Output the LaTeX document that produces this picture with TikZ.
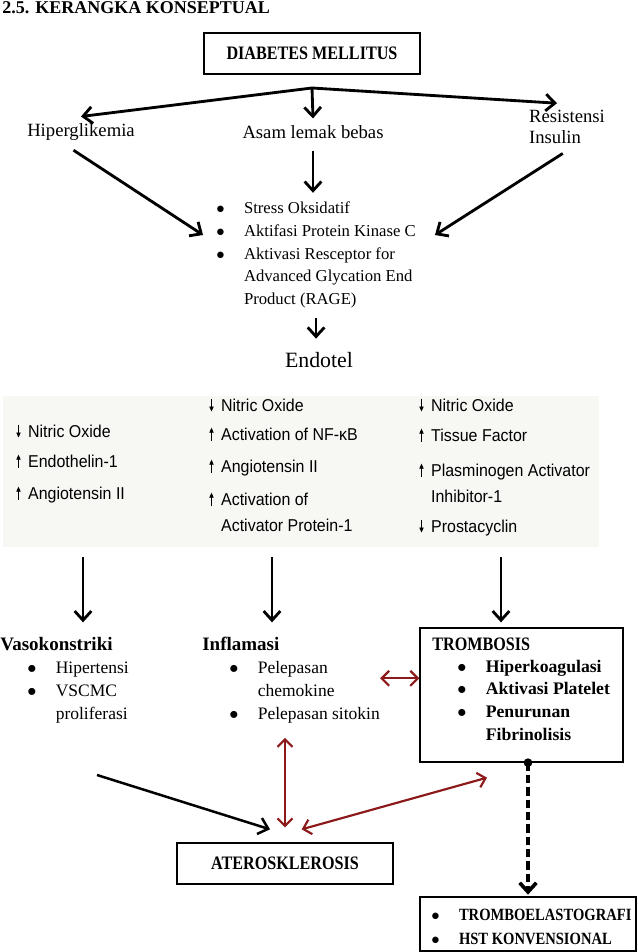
\documentclass[tikz,border=0pt]{standalone}
\usepackage{fontspec}
\setmainfont{Liberation Serif}
\newfontfamily\capsfont[FakeStretch=0.85]{Liberation Serif}
\newfontfamily\panelfont[FakeStretch=0.93]{Liberation Sans}
\usetikzlibrary{arrows.meta,positioning,calc}
\definecolor{darkred}{HTML}{8C1A1A}
\definecolor{panelgrey}{HTML}{F7F7F4}
\newcommand\bul{$\bullet$}
\newcommand\blist[1]{\begin{tabular}[t]{@{}l@{\hspace{11.6pt}}l@{}}#1\end{tabular}}
\newcommand\pitem[2]{\begin{tabular}[t]{@{}l@{\hspace{4.5pt}}l@{}}#1 & #2\end{tabular}}
\newcommand\upar{\tikz[baseline=0pt]\draw[line width=0.45pt,-{Triangle[length=3pt,width=2.6pt]}] (0pt,-0.3pt)--(0pt,7.4pt);}
\newcommand\dnar{\tikz[baseline=0pt]\draw[line width=0.45pt,-{Triangle[length=3pt,width=2.6pt]}] (0pt,7.4pt)--(0pt,-0.3pt);}

\begin{document}
\begin{tikzpicture}[x=0.6pt,y=-0.6pt,
txt/.style={inner sep=4pt,font=\fontsize{11.2}{12.6}\selectfont},
box/.style={draw,line width=0.8pt,minimum width=129.6pt,minimum height=24.6pt,
inner sep=0pt,font=\capsfont\bfseries\fontsize{11.4}{13}\selectfont},
ttl/.style={anchor=base west,inner sep=0pt,font=\bfseries\fontsize{11.4}{13}\selectfont},
lst/.style={anchor=base west,inner sep=0pt,font=\fontsize{10.5}{13.8}\selectfont},
pnl/.style={anchor=base west,inner sep=0pt,font=\panelfont\fontsize{10.3}{16}\selectfont},
arr/.style={line width=1.7pt,-{Straight Barb[length=5.5pt,width=10pt]}},
redarr/.style={draw=darkred,line width=1.3pt,
{Straight Barb[length=4.5pt,width=9pt]}-{Straight Barb[length=4.5pt,width=9pt]}},
dasharr/.style={line width=2.2pt,dash pattern=on 5pt off 2.4pt,
-{Straight Barb[length=5.5pt,width=10pt]}}]
\useasboundingbox (0,0) rectangle (637,952);

\node[anchor=base west,inner sep=0pt,font=\bfseries\fontsize{10.8}{13}\selectfont]
  (heading) at (2,14) {2.5. KERANGKA KONSEPTUAL};

\node[box] (dm) at (312,53.5) {DIABETES MELLITUS};
\coordinate (split) at (312,88);
\node[txt] (hiper) at (81,132) {Hiperglikemia};
\node[txt] (asam) at (313,132) {Asam lemak bebas};
\node[txt,align=left] (resist) at (567,127) {Resistensi\\Insulin};
\draw[arr] (split) -- (hiper.north);
\draw[arr] (split) -- (asam.north);
\draw[arr] (split) -- ([xshift=-6pt]resist.north);

\node[anchor=base west,inner sep=0pt,font=\fontsize{10}{13.6}\selectfont] (factors) at (216,214)
  {\blist{\bul & Stress Oksidatif\\
          \bul & Aktifasi Protein Kinase C\\
          \bul & Aktivasi Resceptor for\\
               & Advanced Glycation End\\
               & Product (RAGE)}};
\coordinate (inL) at (203,235);
\coordinate (inR) at (435,235);
\draw[arr,shorten <=3pt] ([xshift=-7pt]hiper.south) -- (inL);
\draw[arr,shorten <=3pt] (resist.south) -- (inR);
\draw[arr,shorten <=3pt,shorten >=3pt] (asam.south) -- (asam.south |- factors.north);

\node[inner sep=2pt,font=\fontsize{13.1}{15}\selectfont] (endotel) at (319,360) {Endotel};
\draw[arr,shorten <=4pt,shorten >=6pt] (factors.south) -- (factors.south |- endotel.north);

\node[fill=panelgrey,inner sep=0pt,minimum width=357.6pt,minimum height=90.6pt] (mech) at (301,471.5) {};
\node[pnl] (no1) at (16,437) {\pitem{\dnar}{Nitric Oxide}};
\node[pnl] (et1) at (16,467) {\pitem{\upar}{Endothelin-1}};
\node[pnl] (at1) at (16,499) {\pitem{\upar}{Angiotensin II}};
\node[pnl] (no2) at (209,411) {\pitem{\dnar}{Nitric Oxide}};
\node[pnl] (nfkb) at (209,440) {\pitem{\upar}{Activation of NF-κB}};
\node[pnl] (at2) at (209,472) {\pitem{\upar}{Angiotensin II}};
\node[pnl] (ap1) at (209,505) {\pitem{\upar}{Activation of\\ & Activator Protein-1}};
\node[pnl] (no3) at (419,411) {\pitem{\dnar}{Nitric Oxide}};
\node[pnl] (tf) at (419,441) {\pitem{\upar}{Tissue Factor}};
\node[pnl] (pai) at (419,476) {\pitem{\upar}{Plasminogen Activator\\ & Inhibitor-1}};
\node[pnl] (pgi) at (419,532) {\pitem{\dnar}{Prostacyclin}};

\node[ttl] (vaso) at (0,650) {Vasokonstriki};
\node[lst] (vasolist) at (27,673)
  {\blist{\bul & Hipertensi\\ \bul & VSCMC\\ & proliferasi}};
\node[ttl] (infl) at (202,650) {Inflamasi};
\node[lst] (infllist) at (229,673)
  {\blist{\bul & Pelepasan\\ & chemokine\\ \bul & Pelepasan sitokin}};
\node[draw,line width=0.8pt,minimum width=121.8pt,minimum height=80.4pt,inner sep=0pt] (tromb) at (521.5,695) {};
\node[ttl,font=\capsfont\bfseries\fontsize{11.4}{13}\selectfont] (trombttl) at (432,650) {TROMBOSIS};
\node[lst,font=\bfseries\fontsize{10.6}{13.6}\selectfont] (tromblist) at (457,672)
  {\blist{\bul & Hiperkoagulasi\\ \bul & Aktivasi Platelet\\
          \bul & Penurunan\\ & Fibrinolisis}};

\coordinate (c1) at (83,0);
\coordinate (c2) at (272,0);
\coordinate (c3) at (501,0);
\draw[arr,shorten <=6pt,shorten >=3pt] (c1 |- mech.south) -- (c1 |- tromb.north);
\draw[arr,shorten <=6pt,shorten >=3pt] (c2 |- mech.south) -- (c2 |- tromb.north);
\draw[arr,shorten <=6pt,shorten >=3pt] (c3 |- mech.south) -- (c3 |- tromb.north);

\coordinate (hlink) at ([yshift=10pt]tromb.west);
\draw[redarr] (infllist.east |- hlink) -- (hlink);

\node[box] (ather) at (285,863.5) {ATEROSKLEROSIS};
\draw[redarr,shorten <=7pt,shorten >=9pt] (infllist.south -| ather.north) -- (ather.north);
\coordinate (athR) at ([shift={(10pt,7.8pt)}]ather.north);
\coordinate (trombL) at ([shift={(-20.7pt,-9pt)}]tromb.south);
\draw[redarr] (athR) -- (trombL);
\coordinate (vasoend) at (97,775);
\coordinate (athL) at ([shift={(-9pt,7.8pt)}]ather.north);
\draw[arr,line width=1.5pt] (vasoend) -- (athL);

\node[draw,line width=0.8pt,minimum width=129.6pt,minimum height=32.4pt,inner sep=0pt] (tests) at (528,924) {};
\node[lst,font=\capsfont\bfseries\fontsize{10.3}{14.4}\selectfont] (testlist) at (431,920)
  {\blist{\bul & TROMBOELASTOGRAFI\\ \bul & HST KONVENSIONAL}};
\fill (tromb.south -| tests.north) circle (2.6pt);
\draw[dasharr,shorten >=1pt] (tromb.south -| tests.north) -- (tests.north);
\end{tikzpicture}
\end{document}
